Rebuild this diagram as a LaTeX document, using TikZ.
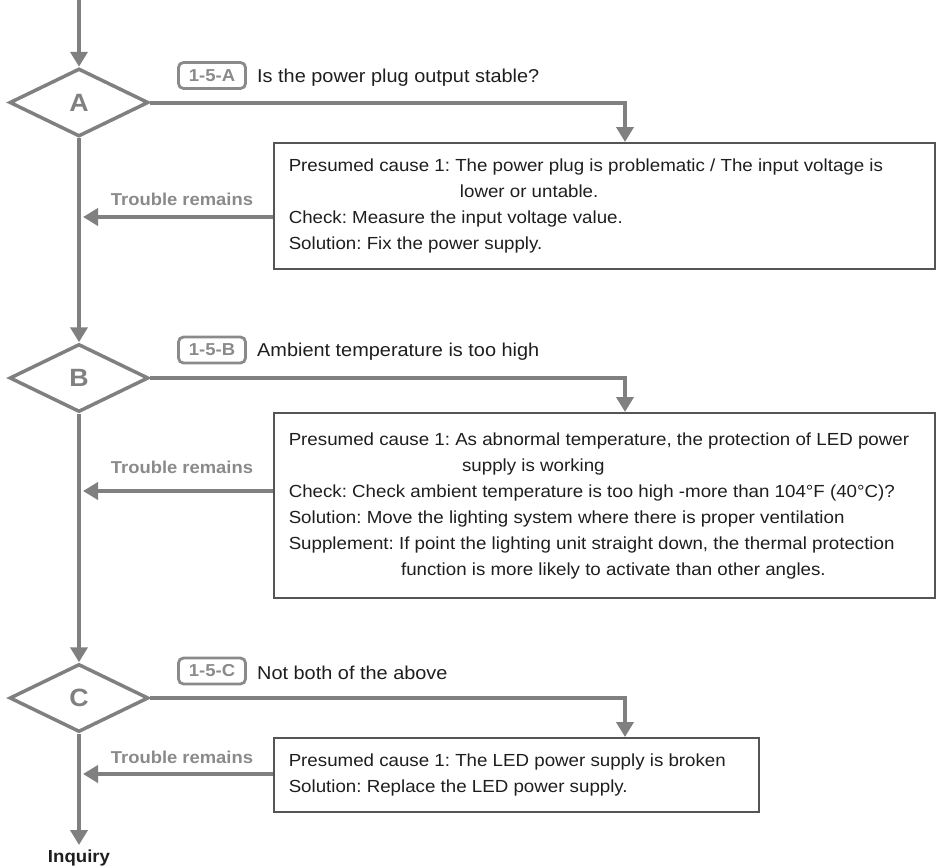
\documentclass[tikz,border=0pt]{standalone}
\usepackage{fontspec}
\setmainfont{Liberation Sans}
\usepackage{graphicx}
\usetikzlibrary{shapes.geometric,arrows.meta}
\frenchspacing
\definecolor{lineGray}{HTML}{808080}
\definecolor{tagGray}{HTML}{8A8A8A}
\definecolor{boxGray}{HTML}{555555}
\definecolor{txt}{HTML}{1E1E1E}
\definecolor{inqTxt}{HTML}{1E1E1E}
\newcommand{\sx}[1]{\scalebox{1.07}[1]{#1}}
\newcommand{\boxtext}[2]{\makebox[#1][l]{\sx{\begin{tabular}{@{}l@{}}#2\end{tabular}}}}

\begin{document}
\begin{tikzpicture}[x=1pt,y=-1pt,
  gline/.style={draw=lineGray, line width=4pt},
  arr/.style={-{Triangle[length=15pt,width=17pt]}},
  dia/.style={diamond, draw=lineGray, line width=3.5pt, minimum width=139pt, minimum height=68pt, inner sep=0pt, text=lineGray, font=\fontsize{25}{30}\selectfont\bfseries},
  tagbox/.style={draw=tagGray, line width=2.8pt, rounded corners=5pt, minimum width=67pt, minimum height=26pt, inner sep=0pt, text=tagGray, font=\fontsize{17.3}{20}\selectfont\bfseries},
  question/.style={anchor=west, inner sep=0pt, text=txt, font=\fontsize{18.6}{22}\selectfont\frenchspacing},
  infobox/.style={draw=boxGray, line width=1.5pt, anchor=north west, inner xsep=15pt, inner ysep=0pt, text=txt, font=\fontsize{17.5}{26}\selectfont\frenchspacing},
  remlabel/.style={inner sep=0pt, text=tagGray, font=\fontsize{17.2}{20}\selectfont\bfseries},
]
\useasboundingbox (0,0) rectangle (938,868);

% decision diamonds
\node[dia] (A) at (79,102.5) {\sx{A}};
\node[dia] (B) at (79,378) {\sx{B}};
\node[dia] (C) at (79,698) {\sx{C}};

% tags and questions
\node[tagbox] (tA) at (212,75.5) {\sx{1-5-A}};
\node[question] (qA) at (257,77.5) {\sx{Is the power plug output stable?}};
\node[tagbox] (tB) at (212,350) {\sx{1-5-B}};
\node[question] (qB) at (257,351.5) {\sx{Ambient temperature is too high}};
\node[tagbox] (tC) at (212,671) {\sx{1-5-C}};
\node[question] (qC) at (257,672.5) {\sx{Not both of the above}};

% info boxes
\node[infobox, minimum width=661pt, minimum height=126pt] (box1) at (273,142) {\boxtext{631pt}{%
Presumed cause 1: The power plug is problematic / The input voltage is\\
\hspace*{160pt}lower or untable.\\
Check: Measure the input voltage value.\\
Solution: Fix the power supply.}};

\node[infobox, minimum width=661pt, minimum height=185pt] (box2) at (273,412) {\boxtext{631pt}{%
Presumed cause 1: As abnormal temperature, the protection of LED power\\
\hspace*{162pt}supply is working\\
Check: Check ambient temperature is too high -more than 104°F (40°C)?\\
Solution: Move the lighting system where there is proper ventilation\\
Supplement: If point the lighting unit straight down, the thermal protection\\
\hspace*{105pt}function is more likely to activate than other angles.}};

\node[infobox, minimum width=485pt, minimum height=74pt] (box3) at (273,737) {\boxtext{455pt}{%
Presumed cause 1: The LED power supply is broken\\
Solution: Replace the LED power supply.}};

% trouble remains labels
\node[remlabel] (lA) at (182,199) {\sx{Trouble remains}};
\node[remlabel] (lB) at (182,467) {\sx{Trouble remains}};
\node[remlabel] (lC) at (182,757) {\sx{Trouble remains}};

\node[inner sep=0pt, text=inqTxt, font=\fontsize{17.4}{20}\selectfont\bfseries] (inq) at (79,858) {\sx{Inquiry}};

% coordinates
\coordinate (start) at (79,0);
\coordinate (jx) at (625,0);
\coordinate (rA) at (83,217);
\coordinate (rB) at (83,491);
\coordinate (rC) at (83,774);
\coordinate (fin) at (79,845);

% main flow
\draw[gline, arr] (start) -- (A.north);
\draw[gline, arr] (A.south) -- (B.north);
\draw[gline, arr] (B.south) -- (C.north);
\draw[gline, arr] (C.south) -- (fin);

% branches to boxes
\draw[gline, arr] (A.east) -| (jx |- box1.north);
\draw[gline, arr] (B.east) -| (jx |- box2.north);
\draw[gline, arr] (C.east) -| (jx |- box3.north);

% trouble remains arrows
\draw[gline, arr] (box1.west |- rA) -- (rA);
\draw[gline, arr] (box2.west |- rB) -- (rB);
\draw[gline, arr] (box3.west |- rC) -- (rC);
\end{tikzpicture}
\end{document}
